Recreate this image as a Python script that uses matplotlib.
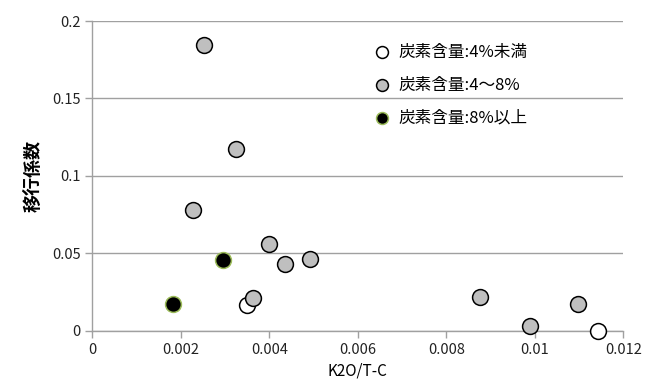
import matplotlib
matplotlib.use("Agg")
import matplotlib.pyplot as plt

plt.rcParams['font.family'] = ['Noto Sans CJK JP', 'DejaVu Sans']

# carbon content groups
labels = ["炭素含量:4%未満", "炭素含量:4〜8%", "炭素含量:8%以上"]

low_x = [0.00349, 0.01143]
low_y = [0.0166, 0.0]

mid_x = [0.00252, 0.00324, 0.00228, 0.00399, 0.00435, 0.00492, 0.00363, 0.00875, 0.01098, 0.00989]
mid_y = [0.1847, 0.1175, 0.0778, 0.0562, 0.0433, 0.0462, 0.0209, 0.0218, 0.0175, 0.0032]

high_x = [0.00295, 0.00182]
high_y = [0.0457, 0.0173]

xticks = [0, 0.002, 0.004, 0.006, 0.008, 0.01, 0.012]
xticklabels = ["0", "0.002", "0.004", "0.006", "0.008", "0.01", "0.012"]
yticks = [0, 0.05, 0.1, 0.15, 0.2]
yticklabels = ["0", "0.05", "0.1", "0.15", "0.2"]

fig = plt.figure(figsize=(6.59, 3.90), dpi=100)
ax = fig.add_axes([0.140, 0.152, 0.806, 0.794])

axis_col = "#a0a0a0"
ax.set_xlim(0, 0.012)
ax.set_ylim(0, 0.2)
ax.set_xticks(xticks)
ax.set_xticklabels(xticklabels)
ax.set_yticks(yticks)
ax.set_yticklabels(yticklabels)
ax.grid(axis='y', color=axis_col, linewidth=1.0)
ax.set_axisbelow(True)
for s in ['top', 'right']:
    ax.spines[s].set_visible(False)
for s in ['left', 'bottom']:
    ax.spines[s].set_color(axis_col)
    ax.spines[s].set_linewidth(1.0)
ax.tick_params(axis='both', colors=axis_col, labelcolor='#222222', labelsize=10.5, length=5, width=1)

ms = 130
ax.scatter(low_x, low_y, s=ms, facecolor='white', edgecolor='black', linewidth=1.1, zorder=3, label=labels[0], clip_on=False)
ax.scatter(mid_x, mid_y, s=ms, facecolor='#bfbfbf', edgecolor='black', linewidth=1.1, zorder=3, label=labels[1], clip_on=False)
ax.scatter(high_x, high_y, s=ms, facecolor='black', edgecolor='#9bbb59', linewidth=1.1, zorder=3, label=labels[2], clip_on=False)

ax.set_xlabel("K2O/T-C", fontsize=11, labelpad=4)
ax.set_ylabel("移行係数", fontsize=13, fontweight='bold', labelpad=7)

leg = ax.legend(loc='upper left', bbox_to_anchor=(0.502, 0.948), frameon=False,
                fontsize=12, markerscale=0.75, handletextpad=0.0,
                labelspacing=0.95, borderaxespad=0)
leg.set_zorder(4)

fig.savefig("out.png", dpi=100)
